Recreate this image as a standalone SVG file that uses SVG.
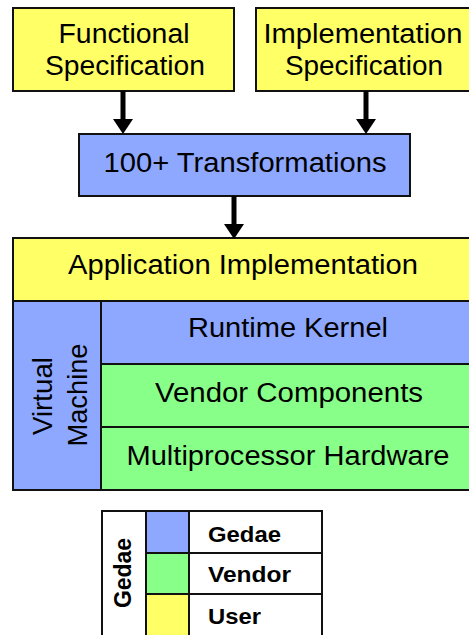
<svg xmlns="http://www.w3.org/2000/svg" width="469" height="635" viewBox="0 0 469 635">
  <defs>
    <!-- filled triangular head; base sits on the line end, tip 15px beyond -->
    <marker id="arrowhead" viewBox="0 0 15 20" refX="0" refY="10" markerWidth="15" markerHeight="20" markerUnits="userSpaceOnUse" orient="auto">
      <path d="M0,0 L15,10 L0,20 Z" fill="#000"/>
    </marker>
    <style>
      .box { stroke: #111; stroke-width: 2; }
      .user { fill: #FFFF66; }
      .gedae { fill: #8EA8FF; }
      .vendor { fill: #88FF88; }
      .plain { fill: #FFFFFF; }
      .label { font-family: "Liberation Sans", Arial, sans-serif; font-size: 27px; fill: #000; text-anchor: middle; }
      .vlabel { font-family: "Liberation Sans", Arial, sans-serif; font-size: 28px; fill: #000; text-anchor: middle; }
      .legend { font-family: "Liberation Sans", Arial, sans-serif; font-size: 22px; font-weight: bold; fill: #000; }
      .vlegend { font-family: "Liberation Sans", Arial, sans-serif; font-size: 24px; font-weight: bold; fill: #000; text-anchor: middle; }
      .link { stroke: #000; stroke-width: 5; fill: none; }
    </style>
  </defs>

  <rect width="469" height="635" fill="#FFFFFF"/>

  <!-- Specifications -->
  <g id="functional-spec">
    <rect class="box user" x="13" y="8" width="221" height="83"/>
    <text class="label" x="124" y="43" textLength="131" lengthAdjust="spacingAndGlyphs">Functional</text>
    <text class="label" x="125" y="75" textLength="160" lengthAdjust="spacingAndGlyphs">Specification</text>
  </g>
  <g id="implementation-spec">
    <rect class="box user" x="256" y="8" width="216" height="83"/>
    <text class="label" x="363" y="43" textLength="199" lengthAdjust="spacingAndGlyphs">Implementation</text>
    <text class="label" x="364" y="75" textLength="158" lengthAdjust="spacingAndGlyphs">Specification</text>
  </g>

  <!-- Transformation stage -->
  <g id="transformations">
    <rect class="box gedae" x="79" y="134" width="331" height="62"/>
    <text class="label" x="245" y="172" textLength="283" lengthAdjust="spacingAndGlyphs">100+ Transformations</text>
  </g>

  <!-- Layered stack -->
  <g id="application">
    <rect class="box user" x="13" y="238" width="460" height="63"/>
    <text class="label" x="243" y="274" textLength="350" lengthAdjust="spacingAndGlyphs">Application Implementation</text>
  </g>
  <g id="virtual-machine">
    <rect class="box gedae" x="13" y="301" width="88" height="189"/>
    <text class="vlabel" transform="translate(51.5 396) rotate(-90)" textLength="78" lengthAdjust="spacingAndGlyphs">Virtual</text>
    <text class="vlabel" transform="translate(87 395) rotate(-90)" textLength="103" lengthAdjust="spacingAndGlyphs">Machine</text>
  </g>
  <g id="runtime-kernel">
    <rect class="box gedae" x="101" y="301" width="372" height="63"/>
    <text class="label" x="288" y="337" textLength="200" lengthAdjust="spacingAndGlyphs">Runtime Kernel</text>
  </g>
  <g id="vendor-components">
    <rect class="box vendor" x="101" y="364" width="372" height="63"/>
    <text class="label" x="289" y="402" textLength="268" lengthAdjust="spacingAndGlyphs">Vendor Components</text>
  </g>
  <g id="multiprocessor-hardware">
    <rect class="box vendor" x="101" y="427" width="372" height="63"/>
    <text class="label" x="288" y="465" textLength="323" lengthAdjust="spacingAndGlyphs">Multiprocessor Hardware</text>
  </g>

  <!-- Connectors -->
  <g id="connectors">
    <line class="link" x1="123" y1="91" x2="123" y2="119" marker-end="url(#arrowhead)"/>
    <line class="link" x1="366" y1="91" x2="366" y2="119" marker-end="url(#arrowhead)"/>
    <line class="link" x1="234" y1="196" x2="234" y2="224" marker-end="url(#arrowhead)"/>
  </g>

  <!-- Legend -->
  <g id="legend">
    <rect class="box plain" x="102" y="511" width="220" height="130"/>
    <line class="box" x1="146" y1="511" x2="146" y2="641"/>
    <rect class="box gedae" x="146" y="511" width="43" height="42"/>
    <rect class="box vendor" x="146" y="553" width="43" height="41"/>
    <rect class="box user" x="146" y="594" width="43" height="47"/>
    <line class="box" x1="189" y1="553" x2="322" y2="553"/>
    <line class="box" x1="189" y1="594" x2="322" y2="594"/>
    <text class="vlegend" transform="translate(130.5 573) rotate(-90)" textLength="70" lengthAdjust="spacingAndGlyphs">Gedae</text>
    <text class="legend" x="208" y="542" textLength="73" lengthAdjust="spacingAndGlyphs">Gedae</text>
    <text class="legend" x="208" y="582" textLength="83" lengthAdjust="spacingAndGlyphs">Vendor</text>
    <text class="legend" x="208" y="624" textLength="53" lengthAdjust="spacingAndGlyphs">User</text>
  </g>
</svg>
